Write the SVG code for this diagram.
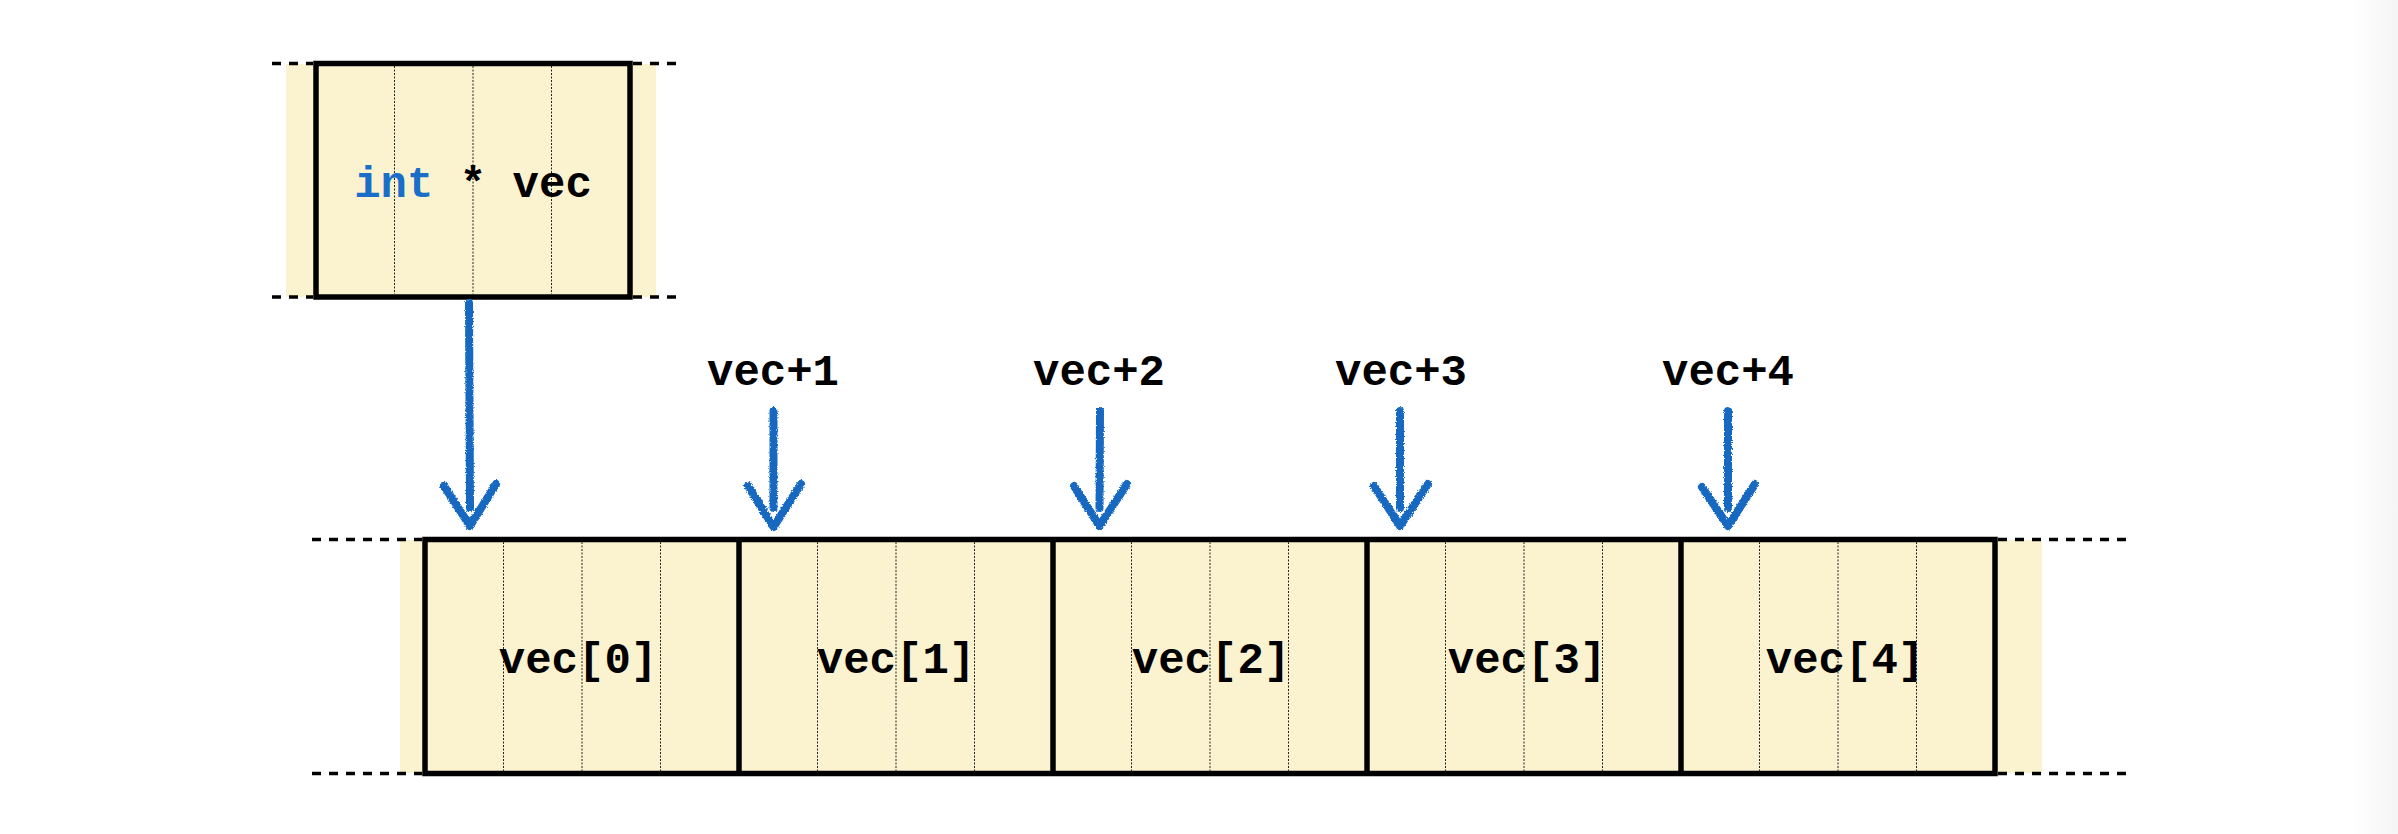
<svg xmlns="http://www.w3.org/2000/svg" width="2398" height="834" viewBox="0 0 2398 834">
<style>
.band{fill:#fbf3d0;stroke:none}
.box{fill:#fbf3d0;stroke:#000;stroke-width:5.5}
.div{stroke:#000;stroke-width:5.5}
.dash{stroke:#000;stroke-width:3.5;stroke-dasharray:9 8;fill:none}
.dot{stroke:#222;stroke-width:1;stroke-dasharray:2 1.5;fill:none}
.lbl{font-family:"Liberation Mono","DejaVu Sans Mono",monospace;font-weight:bold;font-size:44px;fill:#000;text-anchor:middle}
.arr{stroke:#1668c0;stroke-width:8;stroke-linecap:round;stroke-linejoin:round;fill:none}
</style>
<defs>
<filter id="crayon" x="-20%" y="-5%" width="140%" height="110%">
<feTurbulence type="fractalNoise" baseFrequency="0.8" numOctaves="2" seed="3" result="n"/>
<feDisplacementMap in="SourceGraphic" in2="n" scale="3.5" xChannelSelector="R" yChannelSelector="G"/>
</filter>
<linearGradient id="edge" x1="0" y1="0" x2="1" y2="0">
<stop offset="0" stop-color="#ffffff"/>
<stop offset="1" stop-color="#f5f5f5"/>
</linearGradient>
</defs>
<rect x="0" y="0" width="2398" height="834" fill="#fff"/>
<rect x="2350" y="0" width="48" height="834" fill="url(#edge)"/>

<g id="pointer">
<rect class="band" x="286" y="64" width="370" height="233"/>
<rect class="box" x="316" y="63.5" width="314" height="233.5"/>
<line class="dot" x1="394.5" y1="66" x2="394.5" y2="294"/>
<line class="dot" x1="473" y1="66" x2="473" y2="294"/>
<line class="dot" x1="551.5" y1="66" x2="551.5" y2="294"/>
<line class="dash" x1="272" y1="63.5" x2="313" y2="63.5"/>
<line class="dash" x1="633" y1="63.5" x2="676" y2="63.5"/>
<line class="dash" x1="272" y1="297" x2="313" y2="297"/>
<line class="dash" x1="633" y1="297" x2="676" y2="297"/>
<text class="lbl" x="473" y="197"><tspan fill="#1a6ec7">int</tspan> * vec</text>
</g>

<g id="array">
<rect class="band" x="400" y="540" width="1642" height="233"/>
<rect class="box" x="425" y="539.5" width="1570" height="234"/>
<line class="dash" x1="312" y1="539.5" x2="422" y2="539.5"/>
<line class="dash" x1="312" y1="773.5" x2="422" y2="773.5"/>
<line class="dash" x1="1998" y1="539.5" x2="2131" y2="539.5"/>
<line class="dash" x1="1998" y1="773.5" x2="2131" y2="773.5"/>
</g>

<g id="cell0">
<line class="dot" x1="503.5" y1="542" x2="503.5" y2="771"/>
<line class="dot" x1="582" y1="542" x2="582" y2="771"/>
<line class="dot" x1="660.5" y1="542" x2="660.5" y2="771"/>
<text class="lbl" x="578" y="673">vec[0]</text>
</g>
<g id="cell1">
<line class="div" x1="739" y1="539.5" x2="739" y2="773.5"/>
<line class="dot" x1="817.5" y1="542" x2="817.5" y2="771"/>
<line class="dot" x1="896" y1="542" x2="896" y2="771"/>
<line class="dot" x1="974.5" y1="542" x2="974.5" y2="771"/>
<text class="lbl" x="896" y="673">vec[1]</text>
</g>
<g id="cell2">
<line class="div" x1="1053" y1="539.5" x2="1053" y2="773.5"/>
<line class="dot" x1="1131.5" y1="542" x2="1131.5" y2="771"/>
<line class="dot" x1="1210" y1="542" x2="1210" y2="771"/>
<line class="dot" x1="1288.5" y1="542" x2="1288.5" y2="771"/>
<text class="lbl" x="1211" y="673">vec[2]</text>
</g>
<g id="cell3">
<line class="div" x1="1367" y1="539.5" x2="1367" y2="773.5"/>
<line class="dot" x1="1445.5" y1="542" x2="1445.5" y2="771"/>
<line class="dot" x1="1524" y1="542" x2="1524" y2="771"/>
<line class="dot" x1="1602.5" y1="542" x2="1602.5" y2="771"/>
<text class="lbl" x="1527" y="673">vec[3]</text>
</g>
<g id="cell4">
<line class="div" x1="1681" y1="539.5" x2="1681" y2="773.5"/>
<line class="dot" x1="1759.5" y1="542" x2="1759.5" y2="771"/>
<line class="dot" x1="1838" y1="542" x2="1838" y2="771"/>
<line class="dot" x1="1916.5" y1="542" x2="1916.5" y2="771"/>
<text class="lbl" x="1845" y="673">vec[4]</text>
</g>

<g id="labels">
<text class="lbl" x="773" y="385">vec+1</text>
<text class="lbl" x="1099" y="385">vec+2</text>
<text class="lbl" x="1401" y="385">vec+3</text>
<text class="lbl" x="1728" y="385">vec+4</text>
</g>

<g id="connectors" class="arr" filter="url(#crayon)">
<path d="M469,303 L470,508 M444,486 L470,526 L496,484"/>
<path d="M773.5,411 L773.5,508 M748,486 L773.5,527 L801,484"/>
<path d="M1100,411 L1099.5,508 M1074,486 L1099.5,526 L1127,484"/>
<path d="M1400,411 L1400,508 M1374,486 L1400,526 L1428,484"/>
<path d="M1728,411 L1728,508 M1702,487 L1728,526 L1755,484"/>
</g>
</svg>
